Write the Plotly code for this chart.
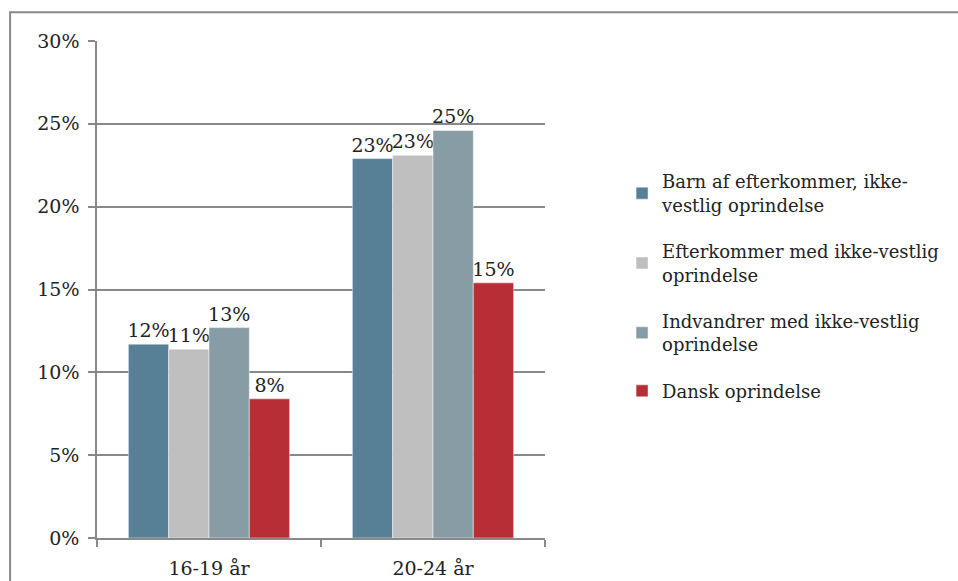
import plotly.graph_objects as go

categories = ["16-19 år", "20-24 år"]
series_names = [
    "Barn af efterkommer, ikke-<br>vestlig oprindelse",
    "Efterkommer med ikke-vestlig<br>oprindelse",
    "Indvandrer med ikke-vestlig<br>oprindelse",
    "Dansk oprindelse",
]
barn = [0.117, 0.229]
efterkommer = [0.114, 0.231]
indvandrer = [0.127, 0.246]
dansk = [0.084, 0.154]
colors = ["#577f95", "#bfbfbf", "#879ca4", "#b82e36"]

font_family = "DejaVu Serif"

fig = go.Figure()
for i, (name, vals, col) in enumerate(zip(series_names, [barn, efterkommer, indvandrer, dansk], colors)):
    fig.add_trace(go.Bar(
        name=name, x=categories, y=vals, legendgroup=f"g{i}",
        marker=dict(color=col, line=dict(color="rgba(255,255,255,0.6)", width=0.8)),
        text=[f"{round(v*100):.0f}%" for v in vals],
        textposition="outside", constraintext="none", cliponaxis=False,
        textfont=dict(family=font_family, size=19, color="#222"),
    ))

fig.update_layout(
    width=958, height=581,
    margin=dict(l=97, r=413, t=41, b=43, autoexpand=False),
    paper_bgcolor="white", plot_bgcolor="white",
    barmode="group", bargap=0.28, bargroupgap=0,
    font=dict(family=font_family, size=19, color="#222"),
    showlegend=True,
    legend=dict(x=1.172, y=0.754, xanchor="left", yanchor="top",
                font=dict(family=font_family, size=18, color="#222"),
                tracegroupgap=20, itemwidth=30, bgcolor="rgba(0,0,0,0)"),
    xaxis=dict(showgrid=False, showline=True, linecolor="#888", linewidth=1.5,
               ticks="outside", tickson="boundaries", ticklen=7, tickcolor="#888",
               tickwidth=1.5, tickfont=dict(size=19), ticklabelstandoff=12,
               automargin=False),
    yaxis=dict(range=[0, 0.30], dtick=0.05, tickformat=".0%",
               showgrid=True, gridcolor="#888", gridwidth=1.5,
               showline=True, linecolor="#888", linewidth=1.5,
               ticks="outside", ticklen=7, tickcolor="#888", tickwidth=1.5,
               zeroline=False, tickfont=dict(size=19), ticklabelstandoff=5,
               automargin=False),
    shapes=[dict(type="rect", xref="paper", yref="paper",
                 x0=-0.194, x1=2.2, y0=-0.3, y1=1.058,
                 line=dict(color="#888", width=2), layer="below")],
)

fig.write_html("out.html", config={"displayModeBar": False},
               post_script="document.body.style.margin='0';")
